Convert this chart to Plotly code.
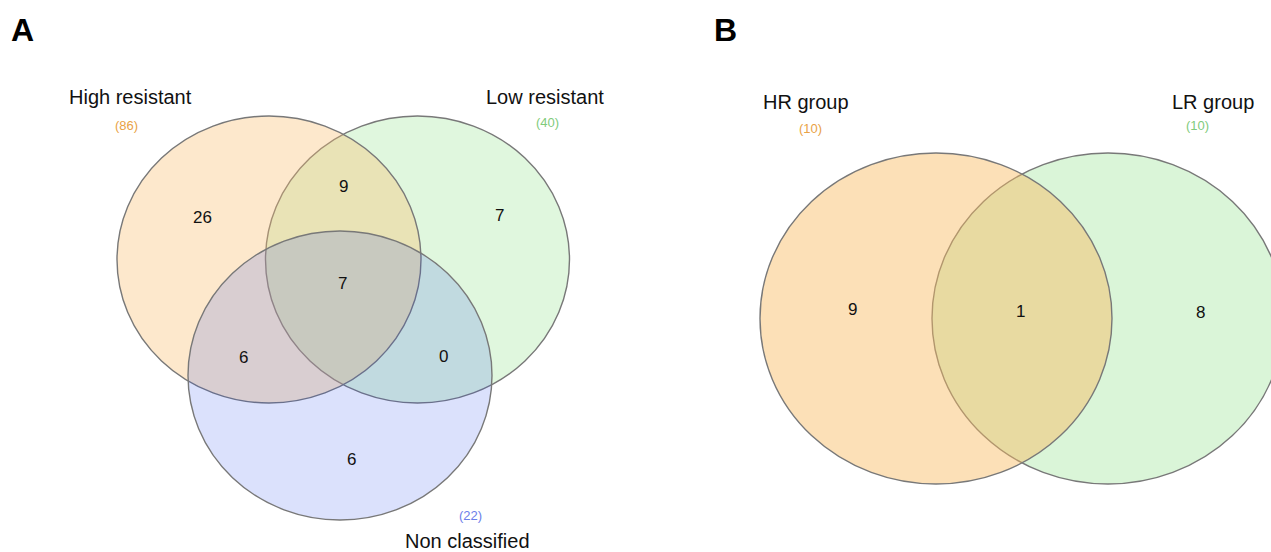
import plotly.graph_objects as go

# ---------------- data ----------------
# Panel A: three-set Venn
setsA = ["High resistant", "Low resistant", "Non classified"]
totalsA = [86, 40, 22]
# regions: H only, L only, N only, H&L, H&N, L&N, H&L&N
regionsA_names = ["H", "L", "N", "HL", "HN", "LN", "HLN"]
regionsA_values = [26, 7, 6, 9, 6, 0, 7]

# Panel B: two-set Venn
setsB = ["HR group", "LR group"]
totalsB = [10, 10]
regionsB_names = ["HR", "LR", "HR&LR"]
regionsB_values = [9, 8, 1]

# ---------------- layout constants (pixels) ----------------
W, H = 1271, 552
FONT = "Liberation Sans, Arial, Helvetica, sans-serif"
EDGE = "rgba(120,120,120,1)"

# drawing order matters (later circles on top)
circA = [  # key, cx, cy, rx, ry, fill
    ("L", 417.5, 259.5, 152, 143.5, "rgb(224,247,222)"),
    ("H", 269, 259.5, 152, 143.5, "rgba(249,189,109,0.35)"),
    ("N", 340, 375.5, 152, 144.5, "rgba(40,75,237,0.17)"),
]
circB = [
    ("LR", 1108, 318.5, 176, 165.5, "rgb(218,245,216)"),
    ("HR", 936, 318.5, 176, 165.5, "rgba(248,186,95,0.45)"),
]

regionA_pos = {"H": (202, 217), "L": (499, 215), "N": (351, 459), "HL": (343, 186),
               "HN": (243, 357), "LN": (443, 356), "HLN": (342, 283)}
regionB_pos = {"HR": (852, 309), "LR": (1200, 312), "HR&LR": (1020, 311)}

labelA_pos = [(130, 97), (545, 97), (467, 541)]
totalA_pos = [(126, 125), (547, 122), (470, 515)]
labelB_pos = [(806, 102), (1213, 102)]
totalB_pos = [(810, 128), (1197, 125)]
total_colors_A = ["#E9A246", "#7FCB7C", "#6C7EEA"]
total_colors_B = ["#E9A246", "#7FCB7C"]

fig = go.Figure()
fig.add_trace(go.Scatter(x=[0, W], y=[0, H], mode="markers",
                         marker=dict(opacity=0), hoverinfo="skip", showlegend=False))

shapes = []
for key, cx, cy, rx, ry, fc in circA + circB:
    shapes.append(dict(type="circle", xref="x", yref="y",
                       x0=cx - rx, x1=cx + rx, y0=cy - ry, y1=cy + ry,
                       fillcolor=fc, line=dict(color=EDGE, width=1.4)))

ann = []
NUM = 17
for name, val in zip(regionsA_names, regionsA_values):
    x, y = regionA_pos[name]
    ann.append(dict(x=x, y=y, text=str(val), font=dict(size=NUM, color="#111")))
for name, val in zip(regionsB_names, regionsB_values):
    x, y = regionB_pos[name]
    ann.append(dict(x=x, y=y, text=str(val), font=dict(size=NUM, color="#111")))
for s, (x, y) in zip(setsA, labelA_pos):
    ann.append(dict(x=x, y=y, text=s, font=dict(size=20, color="#111")))
for t, (x, y), c in zip(totalsA, totalA_pos, total_colors_A):
    ann.append(dict(x=x, y=y, text=f"({t})", font=dict(size=13, color=c)))
for s, (x, y) in zip(setsB, labelB_pos):
    ann.append(dict(x=x, y=y, text=s, font=dict(size=20, color="#111")))
for t, (x, y), c in zip(totalsB, totalB_pos, total_colors_B):
    ann.append(dict(x=x, y=y, text=f"({t})", font=dict(size=13, color=c)))
ann.append(dict(x=22, y=30, text="<b>A</b>", font=dict(size=32, color="#000")))
ann.append(dict(x=725, y=30, text="<b>B</b>", font=dict(size=32, color="#000")))

for a in ann:
    a.update(xref="x", yref="y", showarrow=False, xanchor="center", yanchor="middle")
    a["font"]["family"] = FONT

fig.update_layout(
    width=W, height=H, margin=dict(l=0, r=0, t=0, b=0),
    paper_bgcolor="white", plot_bgcolor="white",
    xaxis=dict(range=[0, W], visible=False, fixedrange=True),
    yaxis=dict(range=[H, 0], visible=False, fixedrange=True),
    shapes=shapes, annotations=ann, showlegend=False,
)
fig.write_html("out.html", config={"displayModeBar": False},
               post_script="document.body.style.margin='0';document.body.style.overflow='hidden';")
